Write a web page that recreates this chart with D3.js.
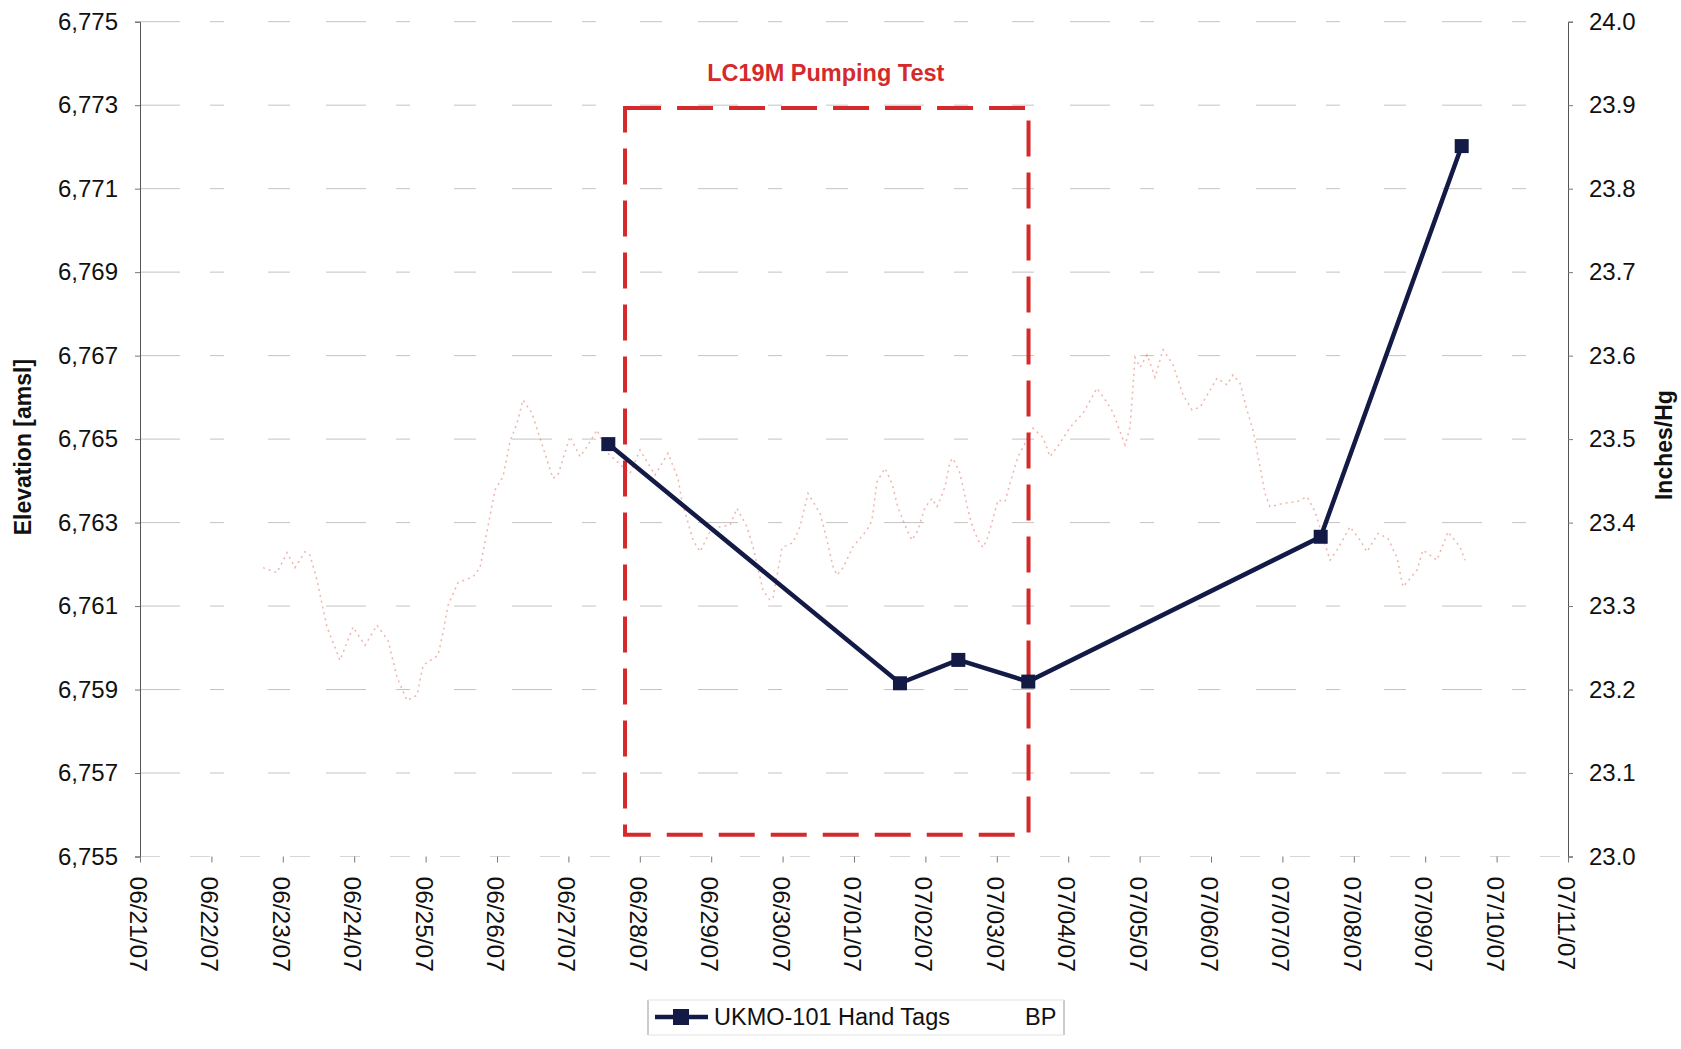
<!DOCTYPE html>
<html><head><meta charset="utf-8">
<script src="https://cdn.jsdelivr.net/npm/d3@7"></script>
<style>
body{margin:0;background:#fff}
svg{display:block}
text{font-family:"Liberation Sans",Arial,Helvetica,sans-serif;fill:#111}
</style>
</head><body>
<svg id="chart" width="1681" height="1049"></svg>
<script>
// ---------- data ----------
const xStart = "2007-06-21T00:00";
const xEnd = "2007-07-11T00:00";
const leftTicks = [6755, 6757, 6759, 6761, 6763, 6765, 6767, 6769, 6771, 6773, 6775];
const rightTicks = [23.0, 23.1, 23.2, 23.3, 23.4, 23.5, 23.6, 23.7, 23.8, 23.9, 24.0];

// UKMO-101 hand tags (elevation, ft amsl)
const tagDates = ["2007-06-27T13:25", "2007-07-01T15:27", "2007-07-02T11:04", "2007-07-03T10:35", "2007-07-07T12:52", "2007-07-09T12:16"];
const tagElev = [6764.88, 6759.15, 6759.71, 6759.19, 6762.66, 6772.02];

// BP (inches Hg), time in days after 06/21/07 00:00
const bpDay = [1.723,1.919,2.059,2.171,2.311,2.381,2.479,2.619,2.801,2.843,2.983,3.151,3.319,3.473,3.599,3.739,3.880,3.964,4.174,4.244,4.314,4.454,4.664,4.762,4.972,5.084,5.182,5.280,5.364,5.490,5.784,5.854,6.022,6.162,6.261,6.401,6.541,6.863,7.003,7.115,7.213,7.395,7.535,7.591,7.745,7.843,7.983,8.123,8.263,8.361,8.501,8.585,8.725,8.824,8.866,8.992,9.146,9.244,9.356,9.524,9.622,9.706,9.762,9.846,9.986,10.182,10.252,10.322,10.434,10.532,10.616,10.742,10.812,10.896,10.994,11.092,11.162,11.204,11.275,11.345,11.387,11.485,11.597,11.653,11.737,11.807,11.877,12.017,12.115,12.185,12.297,12.507,12.647,12.745,12.885,13.025,13.207,13.403,13.543,13.627,13.796,13.866,13.936,14.006,14.104,14.216,14.328,14.468,14.608,14.734,14.846,15.084,15.224,15.308,15.406,15.504,15.588,15.686,15.756,15.826,16.008,16.204,16.345,16.457,16.667,16.765,16.947,17.087,17.185,17.339,17.479,17.605,17.689,17.885,17.969,18.165,18.319,18.487,18.557];
const bpValue = [23.346,23.340,23.364,23.346,23.365,23.361,23.331,23.275,23.235,23.244,23.275,23.253,23.277,23.259,23.215,23.187,23.193,23.229,23.241,23.268,23.301,23.328,23.335,23.346,23.439,23.455,23.497,23.519,23.547,23.531,23.453,23.457,23.503,23.479,23.491,23.511,23.484,23.459,23.487,23.471,23.457,23.483,23.453,23.425,23.379,23.365,23.389,23.395,23.397,23.417,23.395,23.371,23.319,23.307,23.310,23.370,23.376,23.395,23.435,23.411,23.379,23.347,23.337,23.346,23.371,23.391,23.403,23.449,23.465,23.447,23.418,23.391,23.379,23.391,23.418,23.429,23.419,23.427,23.443,23.473,23.477,23.459,23.415,23.397,23.379,23.370,23.383,23.427,23.425,23.447,23.479,23.513,23.502,23.479,23.495,23.514,23.531,23.561,23.544,23.532,23.493,23.514,23.598,23.586,23.601,23.574,23.607,23.589,23.553,23.535,23.538,23.573,23.565,23.577,23.567,23.535,23.511,23.467,23.435,23.419,23.423,23.425,23.431,23.413,23.355,23.367,23.395,23.379,23.365,23.387,23.381,23.358,23.323,23.343,23.367,23.355,23.389,23.371,23.355];

// pumping test window
const pumpStart = "2007-06-27T19:02";
const pumpEnd = "2007-07-03T10:40";
const pumpTop = 6772.93;
const pumpBottom = 6755.52;
const pumpTitle = "LC19M Pumping Test";

const seriesNames = ["UKMO-101 Hand Tags", "BP"];
const leftTitle = "Elevation [amsl]";
const rightTitle = "Inches/Hg";

// ---------- drawing ----------
const parse = d3.timeParse("%Y-%m-%dT%H:%M");
const t0 = parse(xStart), t1 = parse(xEnd);
const svg = d3.select("#chart");
const L = 140, R = 1568, T = 21.7, B = 856.5;

const x = d3.scaleTime().domain([t0, t1]).range([L, R]);
const yL = d3.scaleLinear().domain([6755, 6775]).range([B, T]);
const yR = d3.scaleLinear().domain([23.0, 24.0]).range([B, T]);

// gridlines
svg.append("g").selectAll("line").data(leftTicks.slice(1)).join("line")
  .attr("x1", L).attr("x2", R)
  .attr("y1", d => yL(d)).attr("y2", d => yL(d))
  .attr("stroke", "#8a8a8a").attr("stroke-width", 1)
  .attr("stroke-dasharray", "40 30 14 44 22 36").attr("opacity", 0.5);
// faint baseline
svg.append("line").attr("x1", L).attr("x2", R).attr("y1", B).attr("y2", B)
  .attr("stroke", "#9a9a9a").attr("stroke-dasharray", "20 30").attr("opacity", 0.4);

// left axis
const axL = svg.append("g").attr("transform", `translate(${L},0)`)
  .call(d3.axisLeft(yL).tickValues(leftTicks).tickFormat(d3.format(",")).tickSize(5).tickPadding(17));
axL.select(".domain").attr("stroke", "#555");
axL.selectAll(".tick line").attr("stroke", "#777");
axL.selectAll("text").style("font-size", "24px").attr("fill", "#111");

// right axis
const axR = svg.append("g").attr("transform", `translate(${R},0)`)
  .call(d3.axisRight(yR).tickValues(rightTicks).tickFormat(d3.format(".1f")).tickSize(5).tickPadding(16));
axR.select(".domain").attr("stroke", "#555");
axR.selectAll(".tick line").attr("stroke", "#777");
axR.selectAll("text").style("font-size", "24px").attr("fill", "#111");

// bottom axis
const axB = svg.append("g").attr("transform", `translate(0,${B})`)
  .call(d3.axisBottom(x).ticks(d3.timeDay.every(1)).tickFormat(d3.timeFormat("%m/%d/%y")).tickSize(6));
axB.select(".domain").remove();
axB.selectAll(".tick line").attr("stroke", "#777");
axB.selectAll("text")
  .style("font-size", "24.5px").attr("fill", "#111")
  .attr("text-anchor", "start").attr("dy", null).attr("y", 0).attr("x", 0)
  .attr("dominant-baseline", "central")
  .attr("transform", "translate(-2,20) rotate(90)");

// axis titles
svg.append("text").attr("transform", `translate(23,${(T + B) / 2 + 8}) rotate(-90)`)
  .attr("text-anchor", "middle").attr("dominant-baseline", "central")
  .style("font-size", "23px").style("font-weight", "bold").text(leftTitle);
svg.append("text").attr("transform", `translate(1664,${(T + B) / 2 + 6}) rotate(-90)`)
  .attr("text-anchor", "middle").attr("dominant-baseline", "central")
  .style("font-size", "23px").style("font-weight", "bold").text(rightTitle);

// BP series (faint)
const bpData = bpDay.map((d, i) => ({ t: new Date(t0.getTime() + d * 864e5), v: bpValue[i] }));
svg.append("path").datum(bpData)
  .attr("fill", "none").attr("stroke", "#e06a55").attr("stroke-width", 1.5)
  .attr("stroke-dasharray", "2 4").attr("opacity", 0.5)
  .attr("d", d3.line().x(d => x(d.t)).y(d => yR(d.v)));

// pumping test box
const bx0 = x(parse(pumpStart)), bx1 = x(parse(pumpEnd));
const by0 = yL(pumpTop), by1 = yL(pumpBottom);
svg.append("rect").attr("x", bx0).attr("y", by0).attr("width", bx1 - bx0).attr("height", by1 - by0)
  .attr("fill", "none").attr("stroke", "#d42a2c").attr("stroke-width", 4)
  .attr("stroke-dasharray", "36 16");
svg.append("text").attr("x", (bx0 + bx1) / 2 - 1).attr("y", 81)
  .attr("text-anchor", "middle").style("font-size", "23.5px").style("font-weight", "bold")
  .attr("fill", "#d42a2c").style("fill", "#d42a2c").text(pumpTitle);

// hand tags series
const tagData = tagDates.map((d, i) => ({ t: parse(d), v: tagElev[i] }));
const navy = "#141a46";
svg.append("path").datum(tagData)
  .attr("fill", "none").attr("stroke", navy).attr("stroke-width", 4.5).attr("stroke-linejoin", "miter")
  .attr("d", d3.line().x(d => x(d.t)).y(d => yL(d.v)));
svg.append("g").selectAll("rect").data(tagData).join("rect")
  .attr("x", d => x(d.t) - 7).attr("y", d => yL(d.v) - 7)
  .attr("width", 14).attr("height", 14).attr("fill", navy);

// legend
const lg = svg.append("g");
lg.append("line").attr("x1", 648).attr("x2", 648).attr("y1", 1000).attr("y2", 1035).attr("stroke", "#999");
lg.append("line").attr("x1", 1064).attr("x2", 1064).attr("y1", 1000).attr("y2", 1035).attr("stroke", "#999");
lg.append("line").attr("x1", 648).attr("x2", 1064).attr("y1", 1000).attr("y2", 1000).attr("stroke", "#e4e4e4");
lg.append("line").attr("x1", 648).attr("x2", 1064).attr("y1", 1035).attr("y2", 1035).attr("stroke", "#e4e4e4");
lg.append("line").attr("x1", 655).attr("x2", 708).attr("y1", 1017).attr("y2", 1017).attr("stroke", navy).attr("stroke-width", 4.5);
lg.append("rect").attr("x", 673).attr("y", 1009).attr("width", 16).attr("height", 16).attr("fill", navy);
lg.append("text").attr("x", 714).attr("y", 1025).style("font-size", "23.5px").text(seriesNames[0]);
lg.append("text").attr("x", 1025).attr("y", 1025).style("font-size", "23.5px").text(seriesNames[1]);
</script>
</body></html>
